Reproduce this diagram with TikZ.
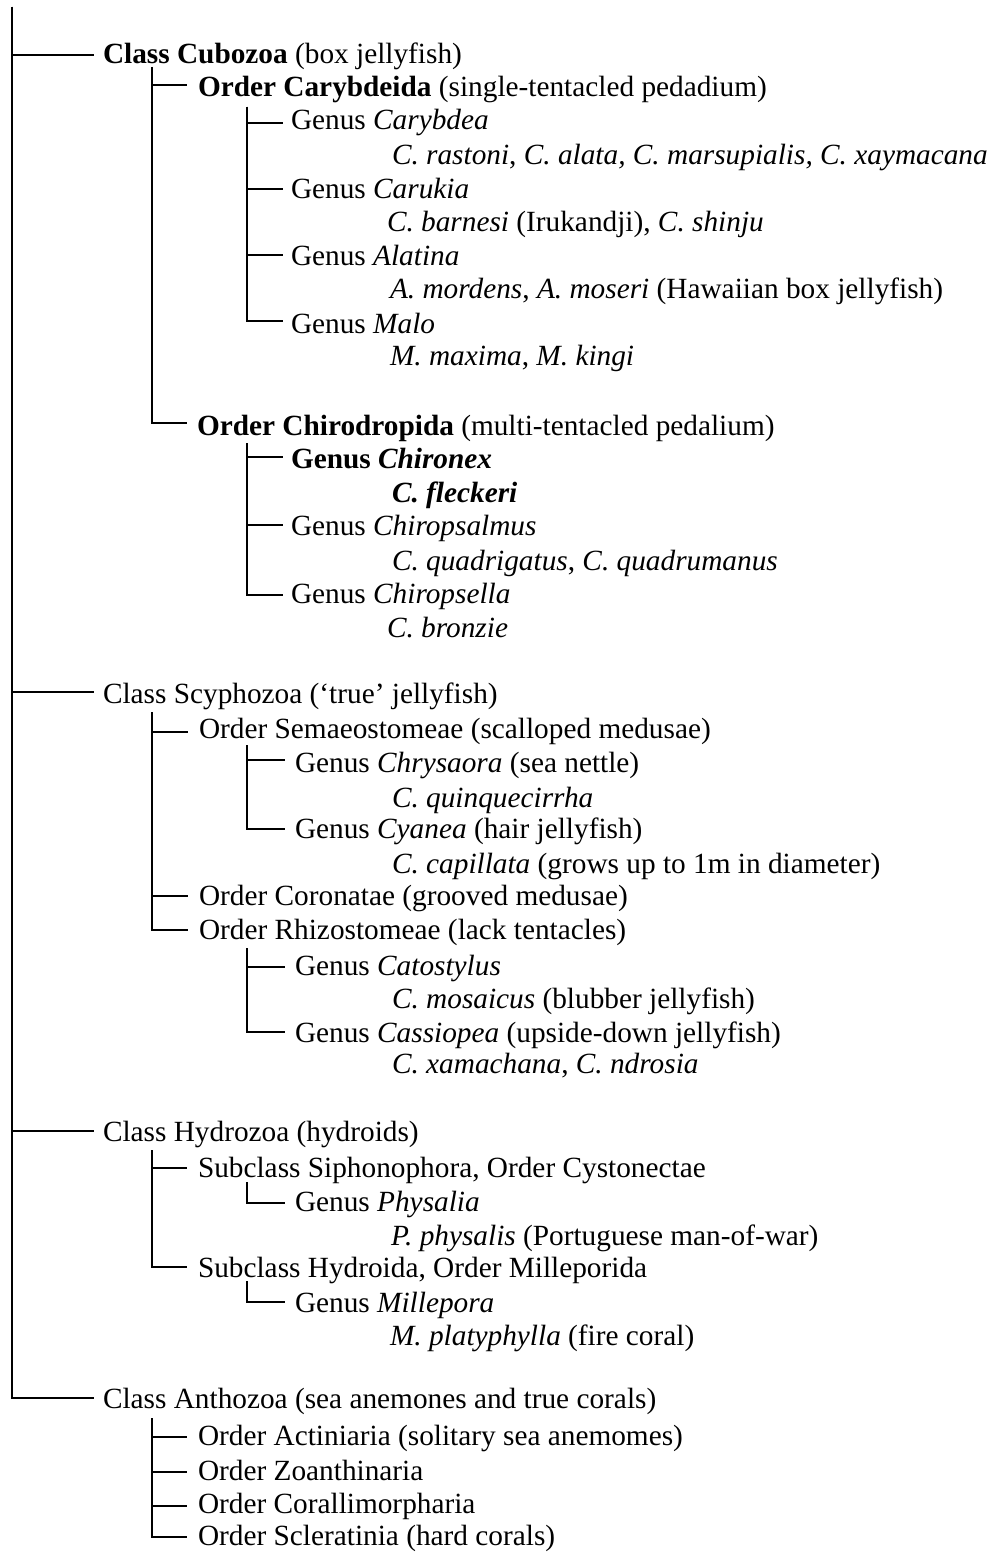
\documentclass[tikz,border=0pt]{standalone}
\usepackage{fontspec}
\setmainfont{Liberation Serif}
\begin{document}
\begin{tikzpicture}[x=1bp,y=-1bp,
  lbl/.style={anchor=base west,inner ysep=0pt,outer sep=0pt,
    font=\fontsize{29.3bp}{34bp}\selectfont},
  cls/.style={lbl,inner xsep=9bp},
  ord/.style={lbl,inner xsep=11bp},
  gen/.style={lbl,inner xsep=8bp},
  gen2/.style={lbl,inner xsep=10bp},
  spc/.style={lbl,inner xsep=0pt},
  conn/.style={line width=2bp}]
\useasboundingbox (0,0) rectangle (994,1554);
% ---- trunk tops
\coordinate (m0) at (12,7);
\coordinate (c1) at (152,67);
\coordinate (c1a) at (247,107);
\coordinate (c1b) at (247,443);
\coordinate (c2) at (152,712);
\coordinate (c2a) at (247,745);
\coordinate (c2b) at (247,948);
\coordinate (c3) at (152,1150);
\coordinate (c3a) at (247,1182);
\coordinate (c3b) at (247,1281);
\coordinate (c4) at (152,1418);
% ---- Cubozoa
\node[cls] (cub) at (94,64) {\textbf{Class Cubozoa} (box jellyfish)};
\node[ord] (cary) at (187,97) {\textbf{Order Carybdeida} (single-tentacled pedadium)};
\node[gen] (gcar) at (283,130) {Genus \textit{Carybdea}};
\node[spc] (s1) at (392,164) {\textit{C. rastoni}, \textit{C. alata, C. marsupialis, C. xaymacana}};
\node[gen] (gcaru) at (283,198) {Genus \textit{Carukia}};
\node[spc] (s2) at (387,231) {\textit{C. barnesi} (Irukandji), \textit{C. shinju}};
\node[gen] (gala) at (283,265) {Genus \textit{Alatina}};
\node[spc] (s3) at (390,298) {\textit{A. mordens}, \textit{A. moseri} (Hawaiian box jellyfish)};
\node[gen] (gmalo) at (283,333) {Genus \textit{Malo}};
\node[spc] (s4) at (390,365) {\textit{M. maxima}, \textit{M. kingi}};
\node[ord,inner xsep=10bp] (chiro) at (187,435) {\textbf{Order Chirodropida} (multi-tentacled pedalium)};
\node[gen] (gchx) at (283,468) {\textbf{Genus \textit{Chironex}}};
\node[spc] (s5) at (392,502) {\textbf{\textit{C. fleckeri}}};
\node[gen] (gchs) at (283,535) {Genus \textit{Chiropsalmus}};
\node[spc] (s6) at (392,570) {\textit{C. quadrigatus}, \textit{C. quadrumanus}};
\node[gen] (gchl) at (283,603) {Genus \textit{Chiropsella}};
\node[spc] (s7) at (387,637) {\textit{C. bronzie}};
% ---- Scyphozoa
\node[cls] (scy) at (94,703) {Class Scyphozoa (‘true’ jellyfish)};
\node[ord] (sem) at (188,738) {Order Semaeostomeae (scalloped medusae)};
\node[gen2] (gchr) at (285,772) {Genus \textit{Chrysaora} (sea nettle)};
\node[spc] (s8) at (392,807) {\textit{C. quinquecirrha}};
\node[gen2] (gcya) at (285,838) {Genus \textit{Cyanea} (hair jellyfish)};
\node[spc] (s9) at (392,873) {\textit{C. capillata} (grows up to 1m in diameter)};
\node[ord] (cor) at (188,905) {Order Coronatae (grooved medusae)};
\node[ord] (rhi) at (188,939) {Order Rhizostomeae (lack tentacles)};
\node[gen2] (gcat) at (285,975) {Genus \textit{Catostylus}};
\node[spc] (s10) at (392,1008) {\textit{C. mosaicus} (blubber jellyfish)};
\node[gen2] (gcas) at (285,1042) {Genus \textit{Cassiopea} (upside-down jellyfish)};
\node[spc] (s11) at (392,1073) {\textit{C. xamachana}, \textit{C. ndrosia}};
% ---- Hydrozoa
\node[cls] (hyd) at (94,1141) {Class Hydrozoa (hydroids)};
\node[ord] (sip) at (187,1177) {Subclass Siphonophora, Order Cystonectae};
\node[gen2] (gphy) at (285,1211) {Genus \textit{Physalia}};
\node[spc] (s12) at (391,1245) {\textit{P. physalis} (Portuguese man-of-war)};
\node[ord] (hyo) at (187,1277) {Subclass Hydroida, Order Milleporida};
\node[gen2] (gmil) at (285,1312) {Genus \textit{Millepora}};
\node[spc] (s13) at (390,1345) {\textit{M. platyphylla} (fire coral)};
% ---- Anthozoa
\node[cls] (ant) at (94,1408) {Class Anthozoa (sea anemones and true corals)};
\node[ord] (act) at (187,1445) {Order Actiniaria (solitary sea anemomes)};
\node[ord] (zoa) at (187,1480) {Order Zoanthinaria};
\node[ord] (cll) at (187,1513) {Order Corallimorpharia};
\node[ord] (scl) at (187,1545) {Order Scleratinia (hard corals)};
% ---- connectors
\begin{scope}[conn]
\draw (m0) |- ([yshift=9bp]cub.base west);
\draw (m0) |- ([yshift=11bp]scy.base west);
\draw (m0) |- ([yshift=10bp]hyd.base west);
\draw (m0) |- ([yshift=10bp]ant.base west);
\draw (c1) |- ([yshift=12bp]cary.base west);
\draw (c1) |- ([yshift=12bp]chiro.base west);
\draw (c1a) |- ([yshift=7bp]gcar.base west);
\draw (c1a) |- ([yshift=9bp]gcaru.base west);
\draw (c1a) |- ([yshift=10bp]gala.base west);
\draw (c1a) |- ([yshift=12bp]gmalo.base west);
\draw (c1b) |- ([yshift=11bp]gchx.base west);
\draw (c1b) |- ([yshift=10bp]gchs.base west);
\draw (c1b) |- ([yshift=8bp]gchl.base west);
\draw (c2) |- ([yshift=6bp]sem.base west);
\draw (c2) |- ([yshift=9bp]cor.base west);
\draw (c2) |- ([yshift=9bp]rhi.base west);
\draw (c2a) |- ([yshift=12bp]gchr.base west);
\draw (c2a) |- ([yshift=9bp]gcya.base west);
\draw (c2b) |- ([yshift=8bp]gcat.base west);
\draw (c2b) |- ([yshift=10bp]gcas.base west);
\draw (c3) |- ([yshift=9bp]sip.base west);
\draw (c3) |- ([yshift=10bp]hyo.base west);
\draw (c3a) |- ([yshift=8bp]gphy.base west);
\draw (c3b) |- ([yshift=10bp]gmil.base west);
\draw (c4) |- ([yshift=8bp]act.base west);
\draw (c4) |- ([yshift=8bp]zoa.base west);
\draw (c4) |- ([yshift=7bp]cll.base west);
\draw (c4) |- ([yshift=8bp]scl.base west);
\end{scope}
\end{tikzpicture}
\end{document}
